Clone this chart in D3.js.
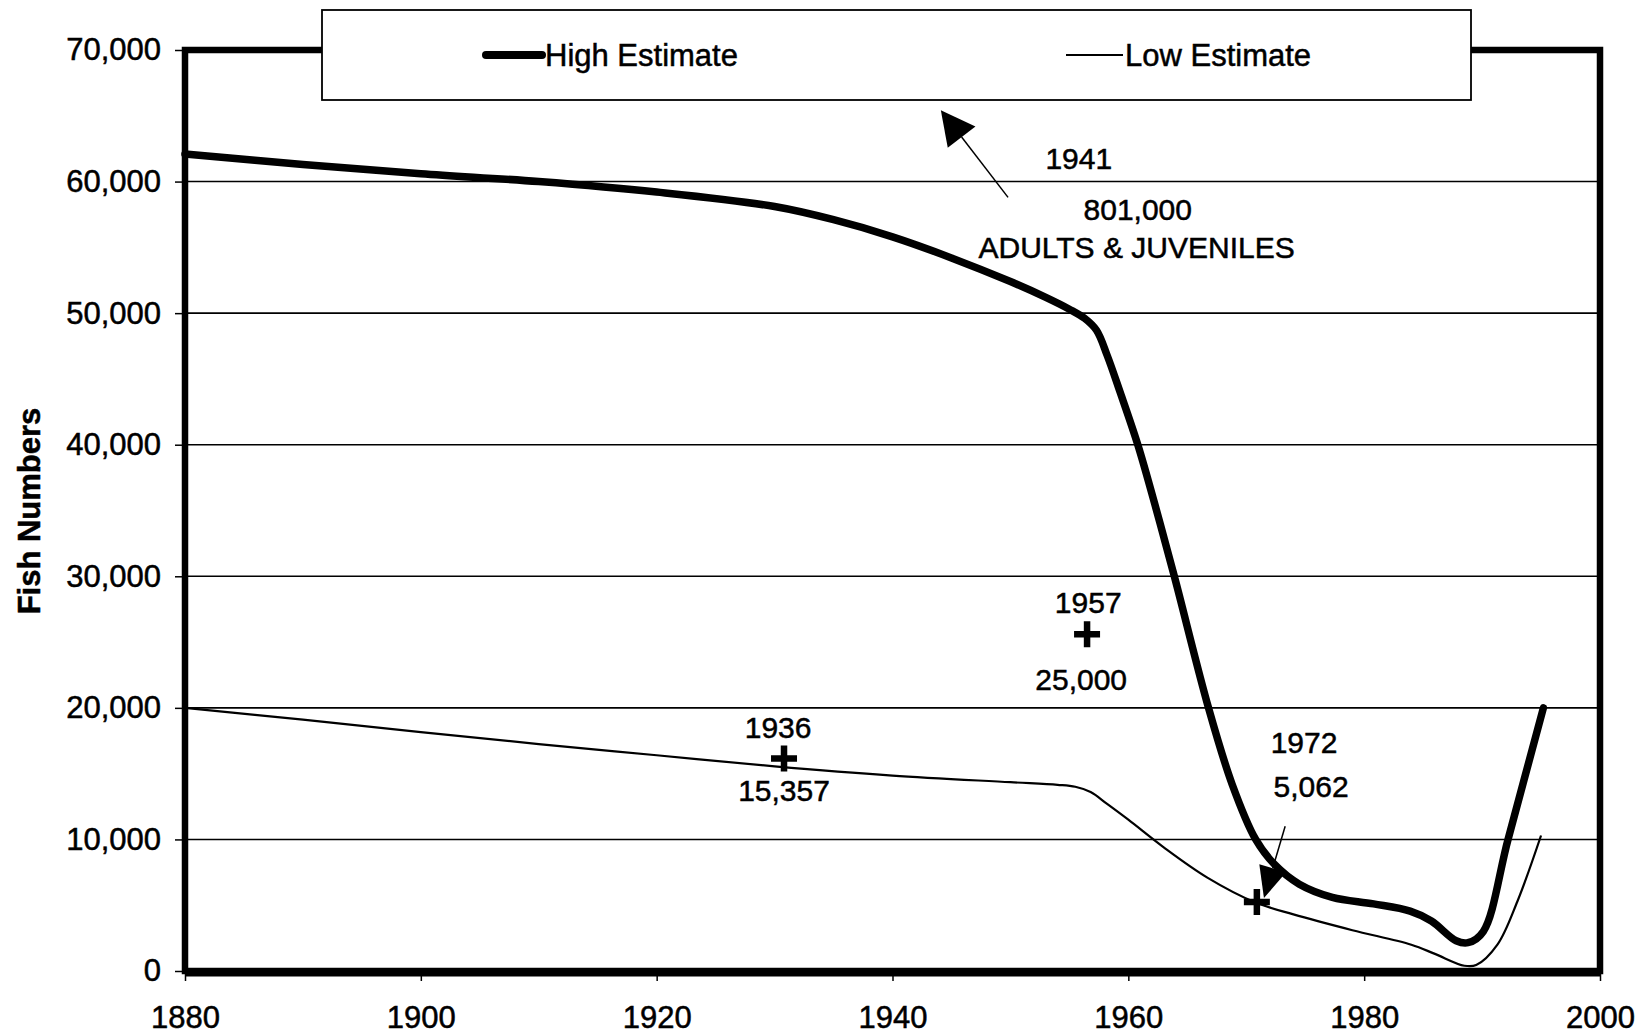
<!DOCTYPE html>
<meta charset="utf-8">
<style>
body{
  margin: 0;
  background: white;
  font-family: Arial, "Liberation Sans", Helvetica, sans-serif;
}
svg text{
  fill: black;
  stroke: black;
  stroke-width: 0.5px;
}
.axis path.domain{
  display: none;
}
.axis line{
  stroke: black;
  stroke-width: 1.5;
}
.axis text{
  font-size: 31px;
  font-family: Arial, "Liberation Sans", sans-serif;
}
</style>
<body>
<div id='chart'></div>
<script src="https://cdn.jsdelivr.net/npm/d3@7"></script>
<script>

var yearTicks = [1880, 1900, 1920, 1940, 1960, 1980, 2000]
var valueTicks = [0, 10000, 20000, 30000, 40000, 50000, 60000, 70000]

var highYears  = [1880, 1890, 1900, 1910, 1920, 1930, 1935, 1940, 1945, 1950, 1953, 1955, 1956.3, 1957.3, 1958.2, 1959.3, 1960.8, 1962.3, 1963.9, 1966.8, 1968.8, 1970.8, 1972.4, 1974.5, 1977.3, 1980.8, 1983.9, 1985.7, 1987.8, 1988.8, 1990.1, 1992.2, 1995.2]
var highValues = [62100, 61300, 60600, 60000, 59200, 58100, 57100, 55800, 54200, 52400, 51200, 50300, 49600, 48700, 46800, 44000, 40000, 35300, 30000, 20000, 14200, 10000, 8100, 6600, 5600, 5100, 4550, 3800, 2300, 2150, 3000, 10000, 20000]

var lowYears  = [1880, 1890, 1900, 1910, 1920, 1930, 1940, 1950, 1954, 1955.5, 1956.8, 1958.2, 1960, 1963, 1966.7, 1970.8, 1974, 1979, 1984, 1986, 1988.5, 1989.5, 1991.3, 1993, 1995]
var lowValues = [20000, 19100, 18150, 17250, 16400, 15550, 14850, 14350, 14150, 14000, 13600, 12700, 11500, 9400, 7100, 5200, 4300, 3100, 2000, 1300, 400, 450, 2000, 5300, 10300]

// survey points drawn as crosses
var markerYears  = [1930.8, 1956.5, 1970.9]
var markerValues = [16150, 25600, 5250]

var labelTexts  = ['1941', '801,000', 'ADULTS & JUVENILES', '1957', '25,000', '1936', '15,357', '1972', '5,062']
var labelYears  = [1955.8, 1960.8, 1960.7, 1956.6, 1956.0, 1930.3, 1930.8, 1974.9, 1975.5]
var labelValues = [60960, 57080, 54190, 27210, 21360, 17710, 12920, 16570, 13220]

// arrows: [tailYear, tailValue, tipYear, tipValue]
var arrows = [
  [1949.8, 58800, 1944.1, 65430],
  [1973.3, 11000, 1971.5, 5550]
]

var width = 1648,
    height = 1036,
    plotLeft = 185, plotRight = 1600,
    plotTop = 50, plotBottom = 971

var svg = d3.select('#chart')
  .append('svg')
    .attr('width', width)
    .attr('height', height)

var x = d3.scaleLinear().domain([1880, 2000]).range([plotLeft, plotRight])
var y = d3.scaleLinear().domain([0, 70000]).range([plotBottom, plotTop])

// gridlines
svg.append('g').selectAll('line')
    .data(valueTicks.filter(function(d){ return d > 0 && d < 70000 }))
  .enter().append('line')
    .attr('x1', plotLeft).attr('x2', plotRight)
    .attr('y1', function(d){ return y(d) })
    .attr('y2', function(d){ return y(d) })
    .style('stroke', 'black')
    .style('stroke-width', 1.6)

svg.append('g')
    .attr('class', 'axis')
    .attr('transform', 'translate(' + plotLeft + ',0)')
    .call(d3.axisLeft(y).tickValues(valueTicks).tickSize(10).tickPadding(14).tickFormat(d3.format(',')))

svg.append('g')
    .attr('class', 'axis')
    .attr('transform', 'translate(0,' + plotBottom + ')')
    .call(d3.axisBottom(x).tickValues(yearTicks).tickSize(10).tickPadding(25).tickFormat(d3.format('d')))

// plot frame
svg.append('rect')
    .attr('x', plotLeft).attr('y', plotTop)
    .attr('width', plotRight - plotLeft).attr('height', plotBottom - plotTop)
    .style('fill', 'none')
    .style('stroke', 'black')
    .style('stroke-width', 6.5)

svg.append('line')
    .attr('x1', plotLeft).attr('x2', plotRight)
    .attr('y1', plotBottom + 1.5).attr('y2', plotBottom + 1.5)
    .style('stroke', 'black')
    .style('stroke-width', 8)

svg.append('text')
    .attr('transform', 'translate(40,511) rotate(-90)')
    .attr('text-anchor', 'middle')
    .style('font-size', '31px')
    .style('font-weight', 'bold')
    .text('Fish Numbers')

var line = d3.line()
    .x(function(d){ return x(d[0]) })
    .y(function(d){ return y(d[1]) })
    .curve(d3.curveCatmullRom.alpha(0.5))

svg.append('path')
    .datum(d3.zip(lowYears, lowValues))
    .attr('d', line)
    .style('fill', 'none')
    .style('stroke', 'black')
    .style('stroke-width', 2.2)

svg.append('path')
    .datum(d3.zip(highYears, highValues))
    .attr('d', line)
    .style('fill', 'none')
    .style('stroke', 'black')
    .style('stroke-width', 7.5)
    .style('stroke-linecap', 'round')

// crosses
svg.append('g').selectAll('path')
    .data(d3.zip(markerYears, markerValues))
  .enter().append('path')
    .attr('d', function(d){
      var cx = x(d[0]), cy = y(d[1]), s = 13
      return 'M' + (cx - s) + ',' + cy + 'H' + (cx + s) + 'M' + cx + ',' + (cy - s) + 'V' + (cy + s)
    })
    .style('stroke', 'black')
    .style('stroke-width', 6.5)

// arrows
arrows.forEach(function(a, i){
  var x0 = x(a[0]), y0 = y(a[1]), x1 = x(a[2]), y1 = y(a[3])
  var dx = x1 - x0, dy = y1 - y0, len = Math.sqrt(dx*dx + dy*dy)
  var ux = dx/len, uy = dy/len
  var L = i == 0 ? 34 : 31, W = i == 0 ? 35 : 28
  var bx = x1 - ux*L, by = y1 - uy*L
  svg.append('line')
      .attr('x1', x0).attr('y1', y0).attr('x2', bx).attr('y2', by)
      .style('stroke', 'black')
      .style('stroke-width', 1.5)
  svg.append('path')
      .attr('d', 'M' + x1 + ',' + y1 +
        'L' + (bx - uy*W/2) + ',' + (by + ux*W/2) +
        'L' + (bx + uy*W/2) + ',' + (by - ux*W/2) + 'Z')
      .style('fill', 'black')
})

svg.append('g').selectAll('text')
    .data(labelTexts)
  .enter().append('text')
    .attr('x', function(d, i){ return x(labelYears[i]) })
    .attr('y', function(d, i){ return y(labelValues[i]) })
    .attr('text-anchor', 'middle')
    .style('font-size', '30px')
    .text(function(d){ return d })

// legend
var legend = svg.append('g')

legend.append('rect')
    .attr('x', 322).attr('y', 10)
    .attr('width', 1149).attr('height', 90)
    .style('fill', 'white')
    .style('stroke', 'black')
    .style('stroke-width', 1.8)

legend.append('line')
    .attr('x1', 486).attr('x2', 542).attr('y1', 55).attr('y2', 55)
    .style('stroke', 'black')
    .style('stroke-width', 8)
    .style('stroke-linecap', 'round')

legend.append('text')
    .attr('x', 545).attr('y', 66)
    .style('font-size', '31px')
    .text('High Estimate')

legend.append('line')
    .attr('x1', 1066).attr('x2', 1123).attr('y1', 55).attr('y2', 55)
    .style('stroke', 'black')
    .style('stroke-width', 2.2)

legend.append('text')
    .attr('x', 1125).attr('y', 66)
    .style('font-size', '31px')
    .text('Low Estimate')

</script>
